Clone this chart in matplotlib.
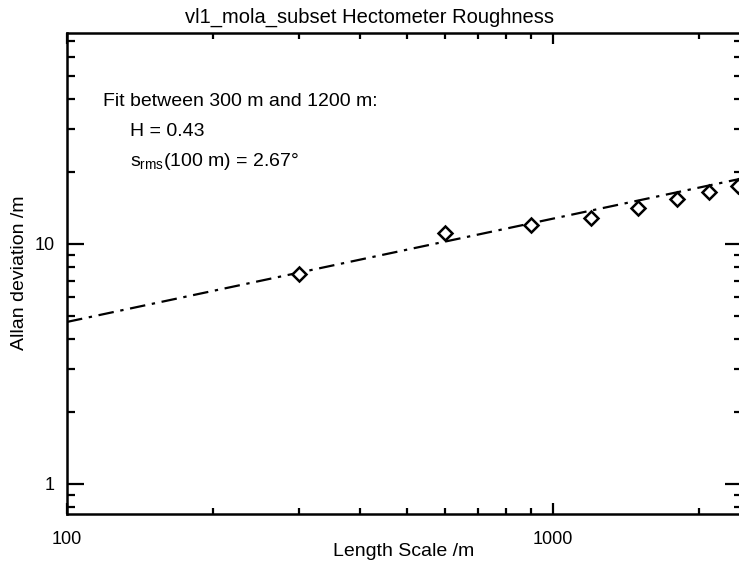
import matplotlib
matplotlib.use("Agg")
import matplotlib.pyplot as plt
import numpy as np
from matplotlib.ticker import LogLocator, NullFormatter, FixedLocator, FixedFormatter

# Data
length_scale = [300, 600, 900, 1200, 1500, 1800, 2100, 2400]
allan_dev = [7.5, 11.1, 12.0, 12.8, 14.1, 15.3, 16.5, 17.4]
fit_H = 0.43
fit_amp_100m = 4.73  # fitted Allan deviation at 100 m
title = "vl1_mola_subset Hectometer Roughness"
xlabel = "Length Scale /m"
ylabel = "Allan deviation /m"
annot = ["Fit between 300 m and 1200 m:", "H = 0.43", r"$\mathrm{s}_{\mathrm{rms}}$(100 m) = 2.67°"]

plt.rcParams['font.family'] = ['Liberation Sans', 'DejaVu Sans']
plt.rcParams['mathtext.fontset'] = 'custom'
plt.rcParams['mathtext.rm'] = 'Liberation Sans'

W, H = 739, 565
fig = plt.figure(figsize=(W/100, H/100), dpi=100)
ax = fig.add_axes([67/W, 1-514/H, (742-67)/W, (514-33)/H])

xlo, xhi = 100, 2450
xs = np.array([xlo, xhi])
ax.plot(xs, fit_amp_100m*(xs/100.0)**fit_H, color='black', lw=1.6, ls=(0, (7, 3, 1.5, 3)))
ax.plot(length_scale, allan_dev, ls='none', marker='D', ms=7, mfc='white', mec='black', mew=1.8, clip_on=False)

ax.set_xscale('log'); ax.set_yscale('log')
ax.set_xlim(xlo, xhi)
ax.set_ylim(0.75, 75.5)

ax.xaxis.set_major_locator(FixedLocator([100, 1000]))
ax.xaxis.set_major_formatter(FixedFormatter(['100', '1000']))
ax.xaxis.set_minor_locator(LogLocator(base=10, subs=np.arange(2, 10)))
ax.xaxis.set_minor_formatter(NullFormatter())
ax.yaxis.set_major_locator(FixedLocator([1, 10]))
ax.yaxis.set_major_formatter(FixedFormatter(['1', '10']))
ax.yaxis.set_minor_locator(LogLocator(base=10, subs=np.arange(2, 10)))
ax.yaxis.set_minor_formatter(NullFormatter())

ax.tick_params(which='both', direction='in', top=True, right=True, width=1.6, colors='black')
ax.tick_params(which='major', labelsize=13)
ax.tick_params(axis='x', which='major', length=8, pad=12)
ax.tick_params(axis='x', which='minor', length=4)
ax.tick_params(axis='y', which='major', length=12, pad=9)
ax.tick_params(axis='y', which='minor', length=6)
for s in ax.spines.values():
    s.set_linewidth(1.8)

fig.text(0.5, 1-17/H, title, fontsize=14.5, ha='center', va='center')
fig.text(404/W, 1-552/H, xlabel, fontsize=14, ha='center', va='center')
fig.text(20/W, 1-273/H, ylabel, fontsize=14, ha='center', va='center', rotation=90)

fig.text(103/W, 1-101/H, annot[0], fontsize=14, va='center', ha='left')
fig.text(130/W, 1-131/H, annot[1], fontsize=14, va='center', ha='left')
fig.text(130/W, 1-162/H, annot[2], fontsize=14, va='center', ha='left')

fig.savefig('out.png', dpi=100)
